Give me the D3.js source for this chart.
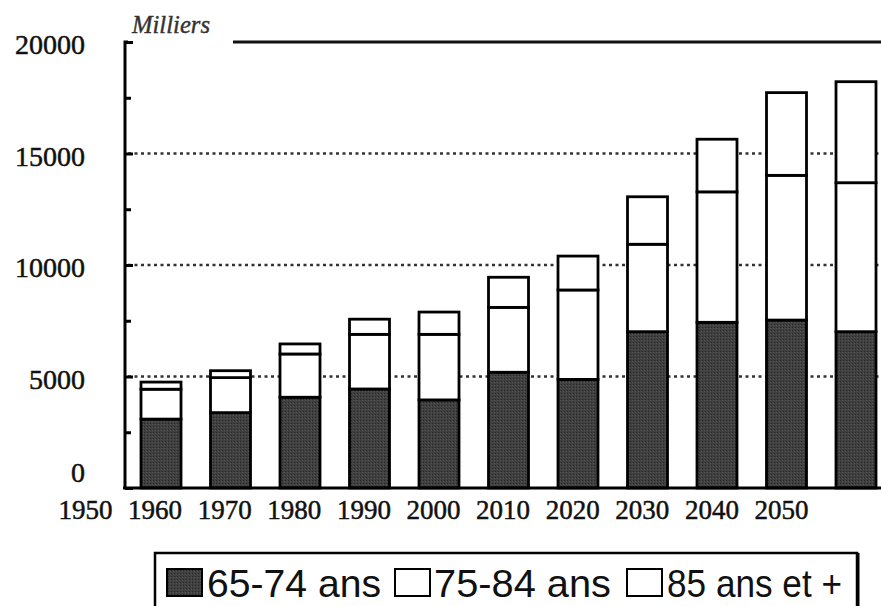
<!DOCTYPE html>
<html>
<head>
<meta charset="utf-8">
<script src="https://cdn.jsdelivr.net/npm/d3@7"></script>
<style>
html,body{margin:0;padding:0;background:#fff;}
svg{display:block;}
</style>
</head>
<body>
<svg id="chart" width="881" height="606"></svg>
<script>
// ---- data (thousands) ----
const years = [1950, 1960, 1970, 1980, 1990, 2000, 2010, 2020, 2030, 2040, 2050];
const tickLabels = [1950, 1960, 1970, 1980, 1990, 2000, 2010, 2020, 2030, 2040, 2050];
const age65_74 = [3090, 3380, 4070, 4440, 3950, 5190, 4870, 7010, 7430, 7530, 7010];
const age75_84 = [1340, 1570, 1940, 2450, 2940, 2910, 4010, 3920, 5850, 6490, 6680];
const age85p   = [320, 310, 450, 680, 1000, 1350, 1520, 2130, 2360, 3710, 4530];
const yTicks = [0, 5000, 10000, 15000, 20000];
const yMinorTicks = [2500, 7500, 12500, 17500];
const gridValues = [5000, 10000, 15000];
const seriesNames = ["65-74 ans", "75-84 ans", "85 ans et +"];
const seriesKeys = ["a", "b", "c"];

const svg = d3.select("#chart");
const W = 881;

const y = d3.scaleLinear().domain([0, 20000]).range([488, 42]);
// bars are drawn one slot to the right of the printed year labels (as in the source figure)
const xBar = d3.scaleLinear().domain([1950, 2050]).range([161, 856]);
const xLab = d3.scaleLinear().domain([1950, 2050]).range([85, 781]);
const barW = 40;

const rows = years.map((yr, i) => ({year: yr, a: age65_74[i], b: age75_84[i], c: age85p[i]}));
const stacked = d3.stack().keys(seriesKeys)(rows);
const fills = {a: "url(#stipple)", b: "#fff", c: "#fff"};

// pattern for dark fill
const defs = svg.append("defs");
const pat = defs.append("pattern").attr("id", "stipple").attr("width", 3).attr("height", 3)
  .attr("patternUnits", "userSpaceOnUse");
pat.append("rect").attr("width", 3).attr("height", 3).attr("fill", "#404040");
pat.append("rect").attr("x", 0).attr("y", 0).attr("width", 1).attr("height", 1).attr("fill", "#262626");
pat.append("rect").attr("x", 2).attr("y", 1).attr("width", 1).attr("height", 1).attr("fill", "#555");

// dotted gridlines
svg.append("g").selectAll("line").data(gridValues).join("line")
  .attr("x1", 128).attr("x2", W)
  .attr("y1", d => y(d)).attr("y2", d => y(d))
  .attr("stroke", "#333").attr("stroke-width", 2.5).attr("stroke-dasharray", "3,3.5");

// top rule
svg.append("line").attr("x1", 233).attr("x2", W).attr("y1", y(20000)).attr("y2", y(20000))
  .attr("stroke", "#111").attr("stroke-width", 3);

// bars
const layers = svg.append("g").selectAll("g").data(stacked).join("g")
  .attr("fill", d => fills[d.key]);
layers.selectAll("rect").data(d => d).join("rect")
  .attr("x", d => xBar(d.data.year) - barW / 2)
  .attr("width", barW)
  .attr("y", d => y(d[1]))
  .attr("height", d => y(d[0]) - y(d[1]))
  .attr("stroke", "#000").attr("stroke-width", 2.8);

// x axis line
svg.append("line").attr("x1", 123).attr("x2", W).attr("y1", y(0)).attr("y2", y(0))
  .attr("stroke", "#000").attr("stroke-width", 2.8);

// y axis (ticks inward)
const yAxis = d3.axisRight(y).tickValues(yTicks).tickSize(8).tickFormat("");
const gy = svg.append("g").attr("transform", "translate(125,0)").call(yAxis);
gy.select(".domain").attr("stroke", "#000").attr("stroke-width", 3)
  .attr("d", `M3,${y(20000)}H0V${y(0)}`);
gy.selectAll(".tick line").attr("stroke", "#000").attr("stroke-width", 3);
const yMinor = d3.axisRight(y).tickValues(yMinorTicks).tickSize(6).tickFormat("");
const gym = svg.append("g").attr("transform", "translate(125,0)").call(yMinor);
gym.select(".domain").remove();
gym.selectAll(".tick line").attr("stroke", "#000").attr("stroke-width", 3);

const serif = "Liberation Serif, Times New Roman, serif";

// y labels
svg.append("g").selectAll("text").data(yTicks).join("text")
  .attr("x", 85)
  .attr("y", d => y(d) + (d === 0 ? -6 : 12))
  .attr("text-anchor", "end")
  .attr("font-family", serif)
  .attr("font-size", 28).attr("fill", "#111")
  .attr("stroke", "#111").attr("stroke-width", 0.5)
  .text(d => d);

// x labels
const xAxis = d3.axisBottom(xLab).tickValues(tickLabels).tickSize(0).tickFormat(d3.format("d"));
const gx = svg.append("g").attr("transform", "translate(0,497)").call(xAxis);
gx.select(".domain").remove();
gx.selectAll("text").attr("font-family", serif)
  .attr("font-size", 27).attr("fill", "#111").attr("dy", "0.71em")
  .attr("stroke", "#111").attr("stroke-width", 0.5);

// unit label
svg.append("text").attr("x", 132).attr("y", 33)
  .attr("font-family", serif)
  .attr("font-style", "italic").attr("font-size", 25).attr("fill", "#333")
  .attr("stroke", "#333").attr("stroke-width", 0.4)
  .attr("textLength", 78).attr("lengthAdjust", "spacingAndGlyphs")
  .text("Milliers");

// legend
const lg = svg.append("g");
lg.append("rect").attr("x", 155).attr("y", 553).attr("width", 702).attr("height", 80)
  .attr("fill", "#fff").attr("stroke", "#000").attr("stroke-width", 2.5);
lg.append("line").attr("x1", 858).attr("x2", 858).attr("y1", 553).attr("y2", 606)
  .attr("stroke", "#000").attr("stroke-width", 3);
const legendItems = [
  {key: "a", name: seriesNames[0], sx: 167, tx: 207, tw: 174},
  {key: "b", name: seriesNames[1], sx: 395, tx: 434, tw: 177},
  {key: "c", name: seriesNames[2], sx: 627, tx: 667, tw: 175}
];
lg.selectAll("rect.sw").data(legendItems).join("rect").attr("class", "sw")
  .attr("x", d => d.sx).attr("y", 569).attr("width", 35).attr("height", 27)
  .attr("fill", d => fills[d.key]).attr("stroke", "#000").attr("stroke-width", 2);
lg.selectAll("text").data(legendItems).join("text")
  .attr("x", d => d.tx).attr("y", 597)
  .attr("font-family", "Liberation Sans, Arial, sans-serif")
  .attr("font-size", 39).attr("fill", "#111")
  .attr("textLength", d => d.tw).attr("lengthAdjust", "spacingAndGlyphs")
  .text(d => d.name);
</script>
</body>
</html>
